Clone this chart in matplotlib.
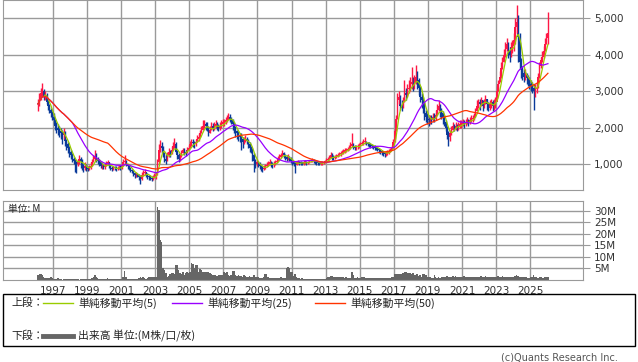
import numpy as np
import pandas as pd
import matplotlib
matplotlib.use("Agg")
import matplotlib.pyplot as plt
from matplotlib.lines import Line2D
from matplotlib.patches import Rectangle

plt.rcParams['font.family'] = ['DejaVu Sans', 'Noto Sans CJK JP']

# monthly bars, Feb 1996 .. Jan 2026
start = "1996-02"

close = [
    2650, 2800, 2950, 3000, 2850, 2900, 2700, 2600, 2500, 2400, 2300,
    2200, 2050, 2000, 1950, 1900, 1850, 1800, 1850, 1650, 1550, 1450, 1350,
    1250, 1150, 1100, 1050, 1000, 1050, 1150, 1100, 950, 900, 950, 900,
    880, 900, 950, 1050, 1150, 1200, 1150, 1100, 1050, 950, 950, 920,
    950, 1000, 1050, 980, 900, 880, 900, 890, 870, 900, 920, 900,
    950, 1050, 1100, 1000, 950, 900, 850, 820, 750, 700, 720, 700,
    650, 600, 700, 750, 780, 720, 680, 650, 620, 600, 650, 680,
    700, 1050, 1400, 1500, 1450, 1300, 1150, 1100, 1250, 1350, 1300, 1400,
    1500, 1550, 1350, 1250, 1150, 1200, 1300, 1380, 1350, 1300, 1400, 1450,
    1550, 1600, 1580, 1550, 1600, 1700, 1750, 1850, 1950, 2050, 2100, 2050,
    2000, 1850, 1950, 2050, 2000, 2050, 2100, 2050, 2000, 2050, 2100, 2150,
    2150, 2200, 2250, 2300, 2250, 2200, 2100, 2000, 1900, 1850, 1800, 1750,
    1700, 1600, 1650, 1700, 1650, 1550, 1450, 1400, 1250, 1100, 1000, 1050,
    1000, 950, 900, 880, 900, 950, 980, 1000, 1050, 1000, 970, 1000,
    1050, 1100, 1150, 1200, 1250, 1300, 1250, 1200, 1150, 1200, 1150, 1100,
    1050, 1000, 980, 1050, 1060, 1040, 1030, 1020, 1050, 1060, 1040, 1050,
    1080, 1100, 1120, 1090, 1060, 1040, 1030, 1020, 1030, 1040, 1050, 1080,
    1120, 1150, 1180, 1250, 1200, 1180, 1200, 1230, 1260, 1280, 1300, 1330,
    1350, 1380, 1400, 1420, 1450, 1500, 1550, 1480, 1450, 1470, 1500, 1520,
    1550, 1580, 1600, 1620, 1580, 1560, 1540, 1520, 1500, 1480, 1460, 1450,
    1420, 1380, 1350, 1330, 1300, 1280, 1300, 1320, 1350, 1400, 1450, 1600,
    1900, 2250, 2750, 2850, 2600, 2550, 2700, 2950, 2900, 3050, 3100, 3200,
    3250, 3150, 3250, 3400, 3300, 3100, 2850, 2750, 2600, 2400, 2300, 2250,
    2200, 2250, 2200, 2300, 2250, 2350, 2500, 2600, 2450, 2400, 2300, 2150,
    2000, 1800, 1750, 1850, 1950, 2050, 2000, 2050, 2000, 2050, 2100, 2100,
    2150, 2100, 2150, 2200, 2150, 2200, 2250, 2250, 2300, 2450, 2600, 2700,
    2650, 2750, 2600, 2700, 2800, 2650, 2550, 2650, 2700, 2600, 2650, 2700,
    3000, 3200, 3400, 3650, 3800, 4000, 4150, 4300, 4100, 4000, 4200, 4250,
    4400, 4750, 4900, 4500, 3800, 3600, 3500, 3400, 3450, 3350, 3300, 3200,
    3150, 3100, 3000, 3050, 3100, 3400, 3700, 3850, 3950, 4100, 4300, 4450,
    4600,
]

high = [
    2800, 2950, 3100, 3220, 3050, 3000, 2950, 2750, 2650, 2550, 2450,
    2400, 2250, 2150, 2100, 2050, 2000, 1950, 2000, 1900, 1700, 1600, 1500,
    1400, 1300, 1200, 1150, 1100, 1150, 1250, 1200, 1150, 1000, 1050, 1000,
    950, 980, 1050, 1150, 1250, 1380, 1300, 1200, 1150, 1100, 1000, 1000,
    1000, 1080, 1120, 1060, 980, 950, 960, 950, 940, 960, 980, 970,
    1000, 1150, 1250, 1120, 1020, 980, 920, 880, 840, 780, 780, 760,
    740, 700, 780, 840, 860, 800, 760, 720, 700, 680, 720, 760,
    800, 1150, 1550, 1660, 1600, 1500, 1350, 1250, 1350, 1450, 1400, 1500,
    1600, 1710, 1600, 1400, 1300, 1280, 1380, 1450, 1450, 1400, 1480, 1520,
    1650, 1700, 1680, 1650, 1700, 1800, 1850, 1950, 2050, 2200, 2200, 2150,
    2150, 2050, 2050, 2150, 2120, 2150, 2200, 2150, 2100, 2150, 2200, 2250,
    2250, 2300, 2350, 2400, 2380, 2300, 2250, 2150, 2050, 1950, 1900, 1850,
    1850, 1750, 1750, 1800, 1750, 1700, 1600, 1500, 1450, 1300, 1150, 1150,
    1100, 1050, 980, 950, 980, 1020, 1050, 1080, 1150, 1100, 1050, 1080,
    1120, 1180, 1220, 1280, 1320, 1380, 1350, 1280, 1250, 1280, 1230, 1200,
    1120, 1080, 1060, 1100, 1110, 1090, 1080, 1070, 1100, 1110, 1090, 1100,
    1130, 1150, 1170, 1140, 1110, 1090, 1080, 1070, 1080, 1090, 1100, 1130,
    1180, 1210, 1260, 1350, 1320, 1250, 1260, 1290, 1320, 1340, 1360, 1390,
    1420, 1440, 1460, 1480, 1520, 1600, 1850, 1580, 1520, 1540, 1560, 1590,
    1610, 1640, 1680, 1750, 1650, 1620, 1600, 1580, 1560, 1540, 1520, 1510,
    1480, 1440, 1420, 1390, 1360, 1340, 1360, 1380, 1410, 1460, 1520, 1700,
    2000, 2350, 2950, 3000, 2900, 2750, 2850, 3300, 3100, 3200, 3300, 3400,
    3660, 3400, 3450, 3710, 3550, 3350, 3150, 2950, 2850, 2700, 2500, 2400,
    2350, 2350, 2350, 2400, 2400, 2500, 2650, 2750, 2650, 2550, 2450, 2350,
    2200, 2050, 1900, 1950, 2050, 2150, 2100, 2150, 2100, 2150, 2200, 2200,
    2250, 2200, 2250, 2300, 2250, 2300, 2350, 2350, 2400, 2550, 2750, 2800,
    2800, 2850, 2750, 2800, 2900, 2800, 2700, 2750, 2800, 2750, 2800, 2850,
    3150, 3300, 3550, 3800, 3950, 4150, 4350, 4450, 4350, 4200, 4350, 4400,
    4600, 5000, 5360, 5100, 4600, 3900, 3700, 3600, 3600, 3500, 3450, 3400,
    3300, 3250, 3200, 3200, 3250, 3500, 3800, 3950, 4100, 4250, 4450, 4600,
    5170,
]

low = [
    2450, 2600, 2750, 2850, 2750, 2750, 2650, 2500, 2400, 2300, 2200,
    2100, 1950, 1850, 1800, 1750, 1700, 1550, 1700, 1500, 1400, 1300, 1200,
    1150, 1050, 1000, 800, 750, 950, 1000, 900, 850, 800, 850, 820,
    820, 850, 880, 950, 1050, 1100, 1050, 1000, 950, 900, 880, 860,
    880, 940, 980, 900, 850, 830, 850, 840, 820, 850, 860, 850,
    880, 940, 1020, 950, 880, 840, 800, 760, 680, 620, 660, 640,
    560, 450, 580, 680, 700, 650, 600, 580, 560, 540, 580, 620,
    600, 700, 1000, 1350, 1300, 1200, 1050, 1000, 1100, 1200, 1200, 1280,
    1400, 1450, 1300, 1150, 1050, 1100, 1200, 1300, 1250, 1220, 1300, 1380,
    1450, 1500, 1480, 1450, 1500, 1600, 1650, 1750, 1850, 1950, 2000, 1950,
    1900, 1780, 1850, 1950, 1900, 1950, 2000, 1950, 1920, 1950, 2000, 2050,
    2050, 2100, 2150, 2200, 2150, 2100, 1950, 1850, 1750, 1700, 1650, 1600,
    1380, 1450, 1550, 1600, 1550, 1450, 1350, 1300, 1100, 780, 900, 950,
    920, 880, 820, 800, 840, 880, 920, 940, 980, 930, 900, 930,
    980, 1030, 1080, 1130, 1180, 1220, 1180, 1120, 1080, 1120, 1080, 1030,
    980, 950, 750, 970, 1000, 990, 980, 970, 990, 1000, 990, 1000,
    1030, 1050, 1070, 1040, 1010, 990, 980, 970, 980, 990, 1000, 1030,
    1060, 1090, 1120, 1180, 1130, 1110, 1140, 1170, 1200, 1220, 1240, 1270,
    1290, 1320, 1340, 1360, 1390, 1430, 1470, 1410, 1390, 1400, 1430, 1460,
    1490, 1520, 1540, 1560, 1520, 1500, 1480, 1460, 1440, 1420, 1400, 1390,
    1360, 1320, 1290, 1260, 1230, 1200, 1240, 1260, 1290, 1340, 1390, 1440,
    1600, 1900, 2250, 2650, 2500, 2450, 2550, 2700, 2750, 2850, 2950, 3000,
    3050, 3000, 3050, 3200, 3050, 2900, 2700, 2550, 2400, 2200, 2150, 2100,
    2050, 2100, 2100, 2150, 2150, 2200, 2350, 2450, 2300, 2250, 2100, 2050,
    1900, 1700, 1500, 1650, 1800, 1950, 1900, 1950, 1920, 1950, 2000, 2000,
    2050, 2000, 2050, 2100, 2050, 2100, 2150, 2150, 2200, 2300, 2450, 2550,
    2500, 2600, 2450, 2550, 2650, 2500, 2450, 2500, 2550, 2450, 2500, 2550,
    2800, 3000, 3250, 3350, 3600, 3800, 3950, 4100, 3900, 3800, 3950, 4050,
    4100, 4300, 4600, 3800, 3600, 3350, 3300, 3250, 3300, 3200, 3150, 3050,
    3000, 2950, 2480, 2850, 2950, 3100, 3350, 3650, 3800, 3900, 4100, 4300,
    4300,
]

# volume in millions
volume = [
    2.0, 2.5, 2.4, 2.2, 1.2, 1.0, 1.0, 0.8, 1.0, 1.1, 0.9,
    0.5, 0.4, 0.3, 0.8, 0.3, 0.3, 0.2, 0.3, 0.3, 0.5, 0.4, 0.3,
    0.3, 0.3, 0.4, 0.6, 0.3, 0.3, 0.2, 0.5, 0.3, 0.4, 0.3, 0.3,
    0.3, 0.4, 0.5, 0.8, 1.2, 2.0, 1.5, 1.0, 0.6, 0.4, 0.3, 0.3,
    0.5, 0.6, 0.7, 0.5, 0.4, 0.3, 0.3, 0.4, 0.3, 0.3, 0.4, 0.3,
    0.5, 1.5, 3.7, 1.2, 0.6, 0.4, 0.3, 0.4, 0.3, 0.5, 0.4, 0.4,
    0.8, 1.5, 1.0, 1.2, 0.8, 0.6, 1.0, 1.5, 1.2, 1.3, 1.2, 1.5,
    1.5, 31.5, 30.5, 17.5, 16.5, 5.4, 4.3, 2.9, 1.5, 1.8, 2.5, 3.0,
    3.0, 2.5, 6.7, 6.5, 4.3, 3.0, 2.5, 3.5, 2.0, 3.0, 3.5, 3.0,
    3.5, 7.2, 7.0, 5.4, 6.7, 6.7, 3.5, 4.8, 4.5, 3.5, 3.5, 3.5,
    3.5, 3.5, 3.0, 2.5, 2.0, 2.0, 2.0, 1.8, 2.0, 2.0, 2.0, 2.0,
    3.5, 3.0, 3.5, 2.0, 1.8, 2.0, 4.0, 4.0, 2.0, 1.8, 2.0, 1.8,
    1.8, 1.5, 2.0, 1.8, 1.5, 1.5, 1.8, 1.5, 1.5, 2.0, 1.5, 1.2,
    1.2, 1.0, 1.0, 1.0, 1.2, 2.7, 2.7, 1.5, 1.0, 1.0, 0.8, 0.8,
    0.8, 1.0, 0.8, 1.0, 1.2, 1.0, 0.8, 0.8, 5.4, 5.6, 5.4, 3.3,
    3.3, 1.7, 2.5, 1.2, 1.0, 0.8, 0.6, 1.0, 0.6, 0.5, 0.5, 0.5,
    0.5, 0.6, 0.5, 0.4, 0.4, 0.3, 0.3, 0.3, 0.4, 0.3, 0.3, 0.4,
    0.8, 1.2, 1.5, 1.8, 1.7, 1.5, 1.5, 1.2, 1.2, 1.5, 1.2, 1.2,
    1.2, 1.0, 1.2, 1.0, 1.0, 1.0, 3.4, 2.0, 1.0, 1.0, 1.2, 1.0,
    1.0, 1.2, 1.5, 1.2, 1.0, 0.8, 0.8, 1.0, 0.8, 0.7, 0.7, 0.8,
    0.8, 0.9, 0.7, 0.8, 0.7, 0.8, 0.7, 0.8, 0.9, 1.0, 1.2, 1.5,
    2.5, 2.5, 2.8, 2.5, 2.4, 2.5, 3.0, 3.3, 3.3, 3.0, 3.2, 3.0,
    2.5, 3.0, 2.0, 2.2, 2.5, 1.8, 2.0, 1.5, 2.8, 2.5, 2.0, 1.5,
    1.5, 1.2, 1.0, 1.0, 2.0, 1.2, 1.0, 1.2, 1.0, 1.2, 1.5, 1.5,
    1.5, 1.8, 1.5, 1.2, 1.5, 1.8, 1.5, 1.8, 1.5, 1.5, 1.5, 1.2,
    1.5, 1.8, 1.5, 1.3, 1.2, 1.5, 1.2, 1.5, 1.5, 1.5, 1.3, 1.2,
    1.5, 1.8, 1.5, 1.5, 1.8, 1.5, 1.2, 1.5, 1.5, 1.2, 1.5, 1.5,
    1.5, 1.8, 1.5, 1.5, 1.8, 1.5, 1.5, 1.2, 1.5, 1.2, 1.2, 1.5,
    1.5, 1.8, 2.0, 1.8, 1.5, 1.5, 1.2, 1.5, 1.2, 1.2, 1.0, 1.0,
    1.2, 1.5, 2.0, 1.5, 1.2, 1.0, 1.2, 1.2, 1.0, 1.0, 1.2, 1.2,
    1.5,
]

price_ticks = [1000, 2000, 3000, 4000, 5000]
vol_ticks = [5, 10, 15, 20, 25, 30]
year_ticks = list(range(1997, 2026, 2))

ma_periods = [5, 25, 50]
ma_colors = ["#99cc00", "#9900ff", "#ff3300"]
up_color = "#ff1744"
down_color = "#0a3a9a"
grid_color = "#9a9a9a"

df = pd.DataFrame({"close": close, "high": high, "low": low, "volume": volume},
                  index=pd.date_range(start, periods=len(close), freq="MS"))
df["open"] = df["close"].shift(1).fillna(df["close"].iloc[0])
x = df.index.year + (df.index.month - 1) / 12 + 1 / 24
up = df["close"] >= df["open"]

W, H = 638, 362
fig = plt.figure(figsize=(W / 100, H / 100), dpi=100)
ax = fig.add_axes([3 / W, 172 / H, 580 / W, 190 / H])
axv = fig.add_axes([3 / W, 82 / H, 580 / W, 79 / H], sharex=ax)

for a in (ax, axv):
    a.set_xlim(1994.07, 2028.1)
    a.set_xticks(year_ticks)
    a.grid(True, color=grid_color, lw=1)
    a.set_axisbelow(True)
    for s in a.spines.values():
        s.set_color(grid_color)
    a.yaxis.tick_right()
    a.tick_params(axis="y", length=5, color=grid_color, labelsize=7.5,
                  labelcolor="#333333", pad=3)
    a.tick_params(axis="x", length=0, labelsize=7.5, labelcolor="#333333", pad=4)

# candles
bw = 1.1 / 12
cols = np.where(up, up_color, down_color)
ax.vlines(x, df["low"], df["high"], colors=cols, lw=1)
body_lo = np.minimum(df["open"], df["close"])
body_h = np.maximum(np.abs(df["close"] - df["open"]), 30)
ax.bar(x, body_h, bottom=body_lo, width=bw, color=cols, lw=0)

for n, c in zip(ma_periods, ma_colors):
    ax.plot(x, df["close"].rolling(n, min_periods=1).mean(), color=c, lw=0.9)

ax.set_ylim(296, 5500)
ax.set_yticks(price_ticks)
ax.set_yticklabels([f"{v:,}" for v in price_ticks])
ax.tick_params(axis="x", labelbottom=False)

axv.bar(x, df["volume"], width=1.1 / 12, color="#666666", lw=0)
axv.set_ylim(0, 34.3)
axv.set_yticks(vol_ticks)
axv.set_yticklabels([f"{v}M" for v in vol_ticks])
axv.set_xticklabels([str(y) for y in year_ticks])
axv.text(0.008, 0.9, "単位: M", transform=axv.transAxes, fontsize=7,
         family=["Noto Sans CJK JP"], va="center", ha="left", color="#222222")

# legend box
def fx(px):
    return px / W

def fy(py):
    return 1 - py / H

fig.add_artist(Rectangle((fx(3), fy(346)), fx(632), 52 / H, transform=fig.transFigure,
                         fill=False, edgecolor="black", lw=1))
jp = ["Noto Sans CJK JP"]
fs = 7.8
fig.text(fx(11), fy(303), "上段：", fontsize=fs, family=jp, va="center", color="#222222")
fig.text(fx(11), fy(336), "下段：", fontsize=fs, family=jp, va="center", color="#222222")
legend_items = [(43, 73, 78, "単純移動平均(5)"),
                (172, 202, 207, "単純移動平均(25)"),
                (315, 345, 350, "単純移動平均(50)")]
for (x1, x2, xt, label), c in zip(legend_items, ma_colors):
    fig.add_artist(Line2D([fx(x1), fx(x2)], [fy(303), fy(303)], color=c, lw=1,
                          transform=fig.transFigure))
    fig.text(fx(xt), fy(303), label, fontsize=fs, family=jp, va="center", color="#222222")
fig.add_artist(Line2D([fx(43), fx(73)], [fy(336), fy(336)], color="#666666", lw=3.5,
                      transform=fig.transFigure))
fig.text(fx(78), fy(336), "出来高 単位:(M株/口/枚)", fontsize=fs, family=jp, va="center",
         color="#222222")

fig.text(fx(618), fy(357), "(c)Quants Research Inc.", fontsize=7, ha="right", va="center",
         color="#555555")

fig.savefig("out.png", dpi=100)
